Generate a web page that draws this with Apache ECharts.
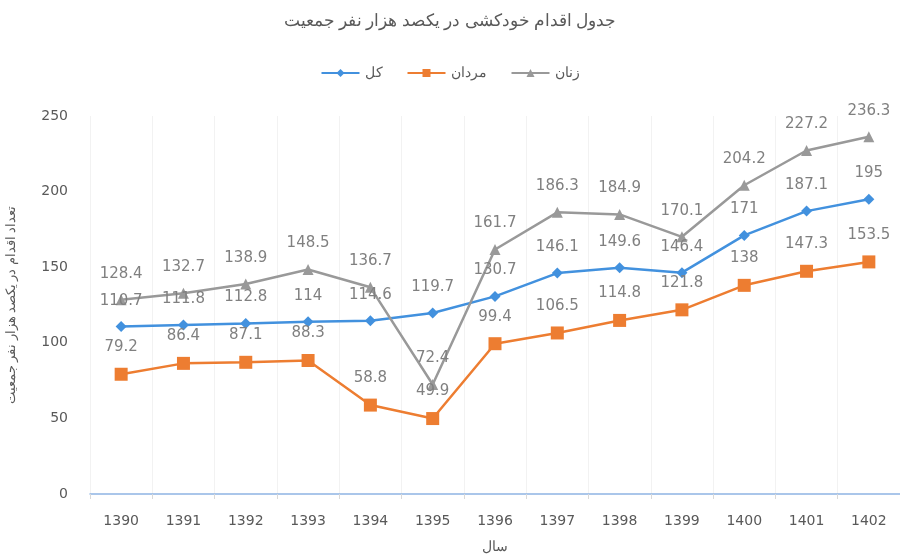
<!DOCTYPE html>
<html>
<head>
<meta charset="utf-8">
<script src="https://cdn.jsdelivr.net/npm/echarts@6/dist/echarts.min.js"></script>
<style>
  html, body { margin: 0; padding: 0; background: #fff; }
  #main { width: 900px; height: 554px; }
</style>
</head>
<body>
<div id="main"></div>
<script>
var years = ['1390', '1391', '1392', '1393', '1394', '1395', '1396', '1397', '1398', '1399', '1400', '1401', '1402'];
var totalVals = [110.7, 111.8, 112.8, 114, 114.6, 119.7, 130.7, 146.1, 149.6, 146.4, 171, 187.1, 195];
var menVals = [79.2, 86.4, 87.1, 88.3, 58.8, 49.9, 99.4, 106.5, 114.8, 121.8, 138, 147.3, 153.5];
var womenVals = [128.4, 132.7, 138.9, 148.5, 136.7, 72.4, 161.7, 186.3, 184.9, 170.1, 204.2, 227.2, 236.3];
var seriesNames = ['کل', 'مردان', 'زنان'];

var chart = echarts.init(document.getElementById('main'));

var labelStyle = {
    show: true,
    position: 'top',
    distance: 13,
    color: '#808080',
    fontSize: 15,
    fontFamily: 'DejaVu Sans'
};

option = {
    color: ['#4291de', '#ed7d31', '#999999'],
    title: {
        text: 'جدول اقدام خودکشی در یکصد هزار نفر جمعیت',
        left: 'center',
        top: 8,
        textStyle: { color: '#595959', fontSize: 17, fontWeight: 'normal', fontFamily: 'Noto Sans' }
    },
    legend: {
        data: seriesNames,
        top: 61,
        left: 'center',
        itemWidth: 38,
        itemHeight: 10,
        itemGap: 24,
        textStyle: { color: '#595959', fontSize: 14, fontFamily: 'Noto Sans' }
    },
    grid: {
        left: 90,
        right: 0,
        top: 116,
        bottom: 60,
        containLabel: false,
        outerBoundsMode: 'none'
    },
    xAxis: {
        type: 'category',
        data: years,
        boundaryGap: true,
        name: 'سال',
        nameLocation: 'middle',
        nameGap: 46,
        nameTextStyle: { color: '#595959', fontSize: 14, fontFamily: 'Noto Sans' },
        axisLine: { lineStyle: { color: '#8fb4e3', width: 1.5 } },
        axisTick: { show: true, lineStyle: { color: '#d9d9d9' } },
        axisLabel: { color: '#595959', fontSize: 14, margin: 20, fontFamily: 'DejaVu Sans' },
        splitLine: { show: true, lineStyle: { color: '#f2f2f2' } }
    },
    yAxis: {
        type: 'value',
        min: 0,
        max: 250,
        interval: 50,
        name: 'تعداد اقدام در یکصد هزار نفر جمعیت',
        nameLocation: 'middle',
        nameGap: 72,
        nameTextStyle: { color: '#595959', fontSize: 13, fontFamily: 'Noto Sans' },
        axisLine: { show: false },
        axisTick: { show: false },
        axisLabel: { color: '#595959', fontSize: 14, margin: 22, fontFamily: 'DejaVu Sans' },
        splitLine: { show: false }
    },
    series: [
        {
            name: seriesNames[0],
            type: 'line',
            data: totalVals,
            symbol: 'diamond',
            symbolSize: 11,
            lineStyle: { width: 2.5 },
            label: labelStyle
        },
        {
            name: seriesNames[1],
            type: 'line',
            data: menVals,
            symbol: 'rect',
            symbolSize: 13,
            lineStyle: { width: 2.5 },
            label: labelStyle
        },
        {
            name: seriesNames[2],
            type: 'line',
            data: womenVals,
            symbol: 'triangle',
            symbolSize: 11,
            lineStyle: { width: 2.5 },
            label: labelStyle
        }
    ]
};

chart.setOption(option);
</script>
</body>
</html>
